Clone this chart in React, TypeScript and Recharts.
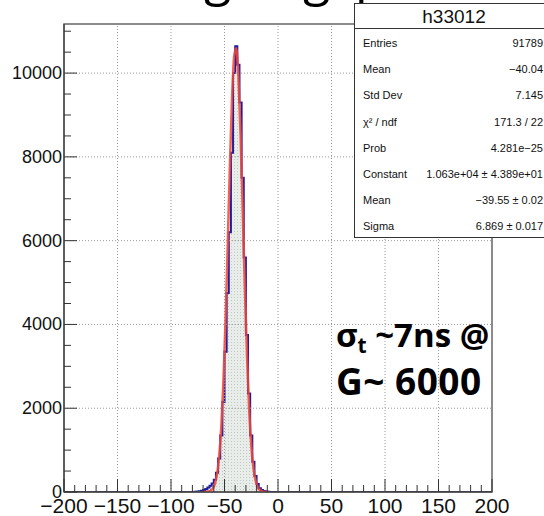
import { ComposedChart, Area, Line, XAxis, YAxis, ReferenceLine, ReferenceArea } from 'recharts';

// histogram h33012, bin width 2 (lower edges) and counts
const binLowEdges = [
  -78, -76, -74, -72, -70, -68, -66, -64, -62, -60, -58, -56, -54, -52, -50, -48, -46, -44,
  -42, -40, -38, -36, -34, -32, -30, -28, -26, -24, -22, -20, -18, -16, -14, -12, -10, -8,
];
const binCounts = [
  5, 10, 20, 30, 50, 70, 110, 150, 200, 290, 460, 800, 1350, 2150, 3350, 4750, 6200, 8100,
  10000, 10640, 10200, 9300, 7500, 5600, 3750, 2350, 1350, 720, 380, 190, 90, 45, 25, 12, 5, 2,
];

// gaus fit curve
const fitX = [
  -71, -69, -67, -65, -63, -61, -59, -57, -55, -53, -51, -49, -47, -45, -43, -41, -39, -37,
  -35, -33, -31, -29, -27, -25, -23, -21, -19, -17, -15, -13, -11, -9,
];
const fitY = [
  0, 1, 4, 11, 31, 81, 193, 422, 848, 1563, 2650, 4126, 5904, 7757, 9372, 10396, 10596, 9922,
  8538, 6745, 4896, 3270, 2002, 1126, 584, 278, 121, 49, 18, 6, 2, 1,
];

const xMajor = [-200, -150, -100, -50, 0, 50, 100, 150, 200];
const yMajor = [0, 2000, 4000, 6000, 8000, 10000];
const xTicks = Array.from({ length: 41 }, (_, i) => -200 + i * 10);
const yTicks = Array.from({ length: 23 }, (_, i) => i * 500);
const Y_MAX = 11172;

const statsRows = [
  ['Entries', '91789'],
  ['Mean', '\u221240.04'],
  ['Std Dev', '7.145'],
  ['\u03c7\u00b2 / ndf', '171.3 / 22'],
  ['Prob', '4.281e\u221225'],
  ['Constant', '1.063e+04 \u00b1 4.389e+01'],
  ['Mean', '\u221239.55 \u00b1 0.02'],
  ['Sigma', '6.869 \u00b1 0.017'],
];

const histTable = [
  { x: -200, y: 0 },
  ...binLowEdges.map((x, i) => ({ x, y: binCounts[i] })),
  { x: -6, y: 0 },
  { x: 200, y: 0 },
];
const fitTable = fitX.map((x, i) => ({ x, y: fitY[i] }));

const fmt = (v: number) => (v < 0 ? '\u2212' + Math.abs(v) : String(v));
const AXIS = '#333';

const XTick = (props: any) => {
  const { x, y, payload } = props;
  const major = xMajor.includes(payload.value);
  return (
    <g>
      <line x1={x} x2={x} y1={y} y2={y - (major ? 13 : 7)} stroke={AXIS} />
      {major && (
        <text x={x} y={y + 21} textAnchor="middle" fontSize={21} fill="#111" fontFamily="Liberation Sans">
          {fmt(payload.value)}
        </text>
      )}
    </g>
  );
};

const YTick = (props: any) => {
  const { x, y, payload } = props;
  const major = yMajor.includes(payload.value);
  return (
    <g>
      <line x1={x} x2={x + (major ? 13 : 7)} y1={y} y2={y} stroke={AXIS} />
      {major && (
        <text x={x - 2} y={y + 6} textAnchor="end" fontSize={18} fill="#111" fontFamily="Liberation Sans">
          {payload.value}
        </text>
      )}
    </g>
  );
};

export default function App() {
  return (
    <div style={{ position: 'absolute', left: 0, top: 0, width: 544, height: 516, background: '#fff', overflow: 'hidden' }}>
      <ComposedChart width={544} height={516} margin={{ top: 24, right: 52, bottom: 0, left: 0 }}>
        <defs>
          <pattern id="dots" width="3" height="3" patternUnits="userSpaceOnUse">
            <rect width="3" height="3" fill="#e6ebe8" />
            <rect width="1" height="1" fill="#b9c2bd" />
          </pattern>
        </defs>
        <XAxis
          dataKey="x"
          type="number"
          domain={[-200, 200]}
          ticks={xTicks}
          interval={0}
          height={24}
          tickSize={0}
          tickMargin={0}
          tickLine={false}
          axisLine={{ stroke: AXIS }}
          tick={(p: any) => <XTick {...p} />}
          allowDataOverflow
        />
        <YAxis
          type="number"
          domain={[0, Y_MAX]}
          ticks={yTicks}
          interval={0}
          width={64}
          tickSize={0}
          tickMargin={0}
          tickLine={false}
          axisLine={{ stroke: AXIS }}
          tick={(p: any) => <YTick {...p} />}
          allowDataOverflow
        />
        {xMajor.slice(1, -1).map((v) => (
          <ReferenceLine key={'gx' + v} x={v} stroke="#9a9a9a" strokeDasharray="1 2" />
        ))}
        {yMajor.slice(1).map((v) => (
          <ReferenceLine key={'gy' + v} y={v} stroke="#9a9a9a" strokeDasharray="1 2" />
        ))}
        <Area
          data={histTable}
          dataKey="y"
          type="stepAfter"
          stroke="#1e1e9c"
          strokeWidth={2}
          fill="url(#dots)"
          fillOpacity={0.9}
          isAnimationActive={false}
        />
        <Line
          data={fitTable}
          dataKey="y"
          type="monotone"
          stroke="#f0463a"
          strokeWidth={2.5}
          strokeOpacity={0.85}
          dot={false}
          isAnimationActive={false}
        />
        <ReferenceArea x1={-200} x2={200} y1={0} y2={Y_MAX} fill="none" stroke="#666" strokeWidth={1.5} />
      </ComposedChart>

      <svg width={544} height={516} style={{ position: 'absolute', left: 0, top: 0, pointerEvents: 'none' }}>
        <g fontFamily="Open Sans" fontSize={50} fill="#000">
          <text x={204} y={-5}>g</text>
          <text x={303} y={-5}>g</text>
          <text x={355} y={-5}>p</text>
        </g>
        <g fontFamily="Open Sans" fontWeight={700} fill="#000">
          <text x={336} y={347} fontSize={33}>
            σ<tspan fontSize={21} dy={6}>t</tspan>
            <tspan dy={-6}> ~7ns @</tspan>
          </text>
          <text x={336} y={395} fontSize={37} letterSpacing={0.5}>G~ 6000</text>
        </g>
        <g fontFamily="Liberation Sans" fill="#111">
          <rect x={354.5} y={3.5} width={200} height={234} fill="#fff" stroke="#333" />
          <line x1={354.5} x2={544} y1={28.5} y2={28.5} stroke="#333" />
          <text x={454} y={23} textAnchor="middle" fontSize={19}>h33012</text>
          {statsRows.map(([k, v], i) => (
            <g key={i} fontSize={11}>
              <text x={363} y={47 + i * 26.2}>{k}</text>
              <text x={543} y={47 + i * 26.2} textAnchor="end">{v}</text>
            </g>
          ))}
        </g>
      </svg>
    </div>
  );
}
